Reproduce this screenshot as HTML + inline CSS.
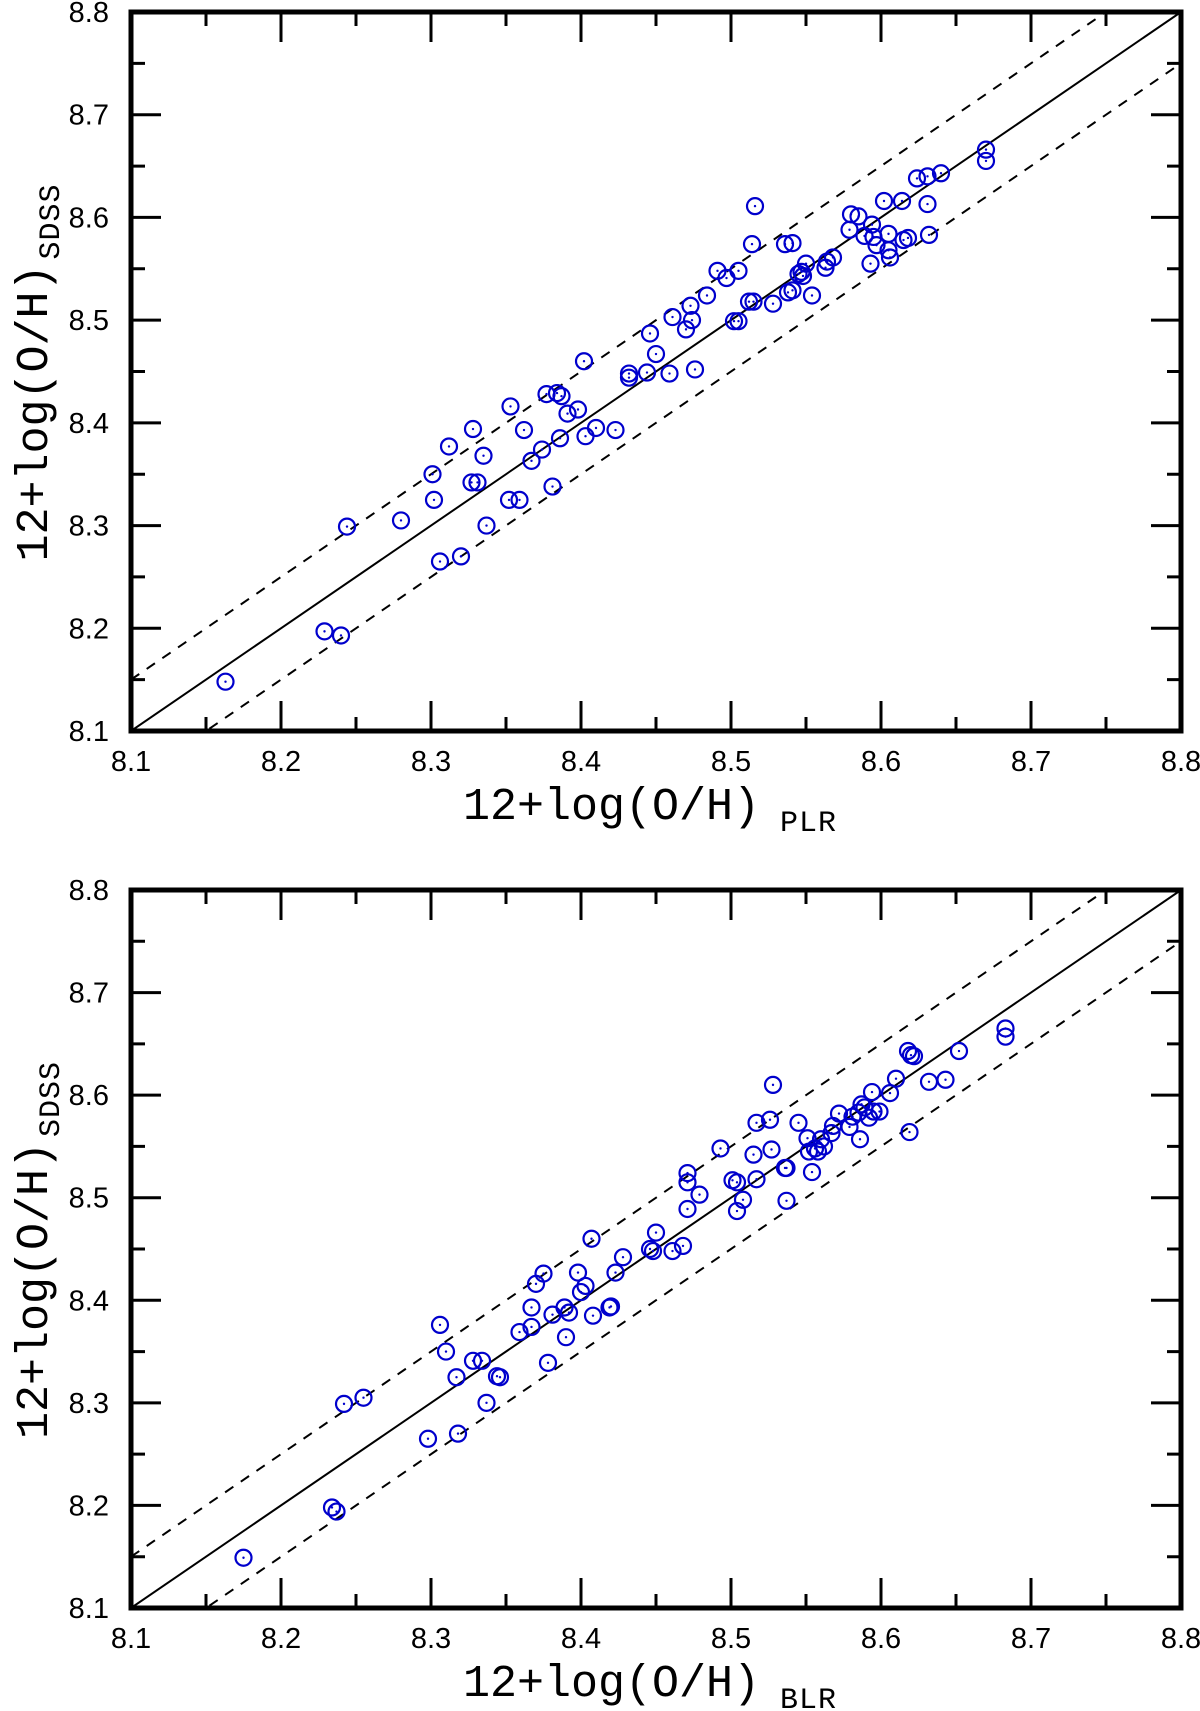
<!DOCTYPE html>
<html><head><meta charset="utf-8"><style>
body{margin:0;background:#fff}
svg{display:block}
.tk{font-family:"Liberation Sans",Arial,sans-serif;font-size:29px;fill:#000}
.ti{font-family:"Liberation Mono","Courier New",monospace;font-size:45px;fill:#000}
.sub{font-family:"Liberation Mono","Courier New",monospace;font-size:30px;letter-spacing:1px;fill:#000}
</style></head><body>
<svg id="svg" width="1200" height="1711" viewBox="0 0 1200 1711" xmlns="http://www.w3.org/2000/svg"></svg>
<script>
const ticks=[8.1,8.2,8.3,8.4,8.5,8.6,8.7,8.8];
const tickLabels=["8.1","8.2","8.3","8.4","8.5","8.6","8.7","8.8"];
const plrX=[8.163,8.229,8.240,8.244,8.280,8.306,8.320,8.301,8.302,8.312,8.328,8.327,8.331,8.335,8.337,8.352,8.359,8.353,8.362,8.367,8.374,8.377,8.384,8.387,8.381,8.386,8.391,8.398,8.402,8.403,8.410,8.423,8.432,8.432,8.444,8.446,8.450,8.459,8.461,8.470,8.473,8.474,8.476,8.484,8.491,8.497,8.502,8.505,8.505,8.512,8.514,8.515,8.516,8.528,8.536,8.541,8.538,8.541,8.545,8.547,8.550,8.548,8.554,8.563,8.564,8.568,8.580,8.579,8.585,8.589,8.594,8.595,8.593,8.597,8.602,8.605,8.605,8.606,8.614,8.615,8.618,8.624,8.631,8.631,8.632,8.640,8.670,8.670];
const plrY=[8.148,8.197,8.193,8.299,8.305,8.265,8.270,8.350,8.325,8.377,8.394,8.342,8.342,8.368,8.300,8.325,8.325,8.416,8.393,8.363,8.374,8.428,8.429,8.426,8.338,8.385,8.409,8.413,8.460,8.387,8.395,8.393,8.448,8.444,8.449,8.487,8.467,8.448,8.503,8.491,8.514,8.500,8.452,8.524,8.548,8.541,8.499,8.499,8.548,8.518,8.574,8.518,8.611,8.516,8.574,8.575,8.527,8.529,8.545,8.547,8.555,8.543,8.524,8.551,8.557,8.561,8.603,8.588,8.601,8.582,8.593,8.581,8.555,8.573,8.616,8.584,8.568,8.561,8.616,8.578,8.580,8.638,8.640,8.613,8.583,8.643,8.666,8.655];
const blrX=[8.175,8.234,8.237,8.242,8.255,8.298,8.318,8.306,8.310,8.317,8.328,8.334,8.337,8.344,8.346,8.359,8.367,8.367,8.370,8.375,8.378,8.381,8.389,8.390,8.392,8.398,8.400,8.403,8.407,8.408,8.419,8.420,8.423,8.428,8.446,8.448,8.450,8.461,8.468,8.471,8.471,8.471,8.479,8.493,8.501,8.504,8.504,8.508,8.515,8.517,8.517,8.526,8.527,8.528,8.536,8.537,8.537,8.545,8.551,8.552,8.554,8.556,8.558,8.560,8.562,8.567,8.568,8.572,8.579,8.581,8.585,8.586,8.587,8.589,8.592,8.594,8.595,8.599,8.606,8.610,8.618,8.620,8.619,8.622,8.632,8.643,8.652,8.683,8.683];
const blrY=[8.149,8.198,8.194,8.299,8.305,8.265,8.270,8.376,8.350,8.325,8.341,8.341,8.300,8.326,8.325,8.369,8.393,8.374,8.416,8.426,8.339,8.386,8.393,8.364,8.388,8.427,8.408,8.414,8.460,8.385,8.393,8.394,8.427,8.442,8.450,8.448,8.466,8.448,8.453,8.524,8.515,8.489,8.503,8.548,8.517,8.515,8.487,8.498,8.542,8.518,8.573,8.576,8.547,8.610,8.529,8.529,8.497,8.573,8.558,8.545,8.525,8.548,8.545,8.557,8.550,8.563,8.570,8.582,8.569,8.579,8.583,8.557,8.591,8.588,8.578,8.603,8.584,8.584,8.602,8.616,8.643,8.639,8.564,8.638,8.613,8.615,8.643,8.665,8.657];
const NS="http://www.w3.org/2000/svg";
const svg=document.getElementById('svg');
function mk(tag,attrs,parent){const e=document.createElementNS(NS,tag);for(const k in attrs)e.setAttribute(k,attrs[k]);(parent||svg).appendChild(e);return e;}
function panel(top,bottom,xs,ys,sub,name){
  const L=131,R=1181,T=top,B=bottom;
  const sx=v=>L+(v-8.1)/0.7*(R-L), sy=v=>B-(v-8.1)/0.7*(B-T);
  const g=mk('g',{});
  
  
  for(let i=0;i<=14;i++){
    const v=8.1+i*0.05, maj=i%2===0, len=maj?30:14;
    const x=sx(v), y=sy(v);
    const t=mk('path',{d:`M${x},${B}V${B-len}M${x},${T}V${T+len}M${L},${y}H${L+len}M${R},${y}H${R-len}`,stroke:'#000','stroke-width':3,fill:'none'},g);
    
    
  }
  ticks.forEach((v,i)=>{
    const a=mk('text',{x:sx(v),y:B+40,'text-anchor':'middle',class:'tk'},g);a.textContent=tickLabels[i];
    
    
    const b=mk('text',{x:109,y:sy(v)+10,'text-anchor':'end',class:'tk'},g);b.textContent=tickLabels[i];
    
    
  });
  const clip='clip'+name;
  const cp=mk('clipPath',{id:clip},g);mk('rect',{x:L,y:T,width:R-L,height:B-T},cp);
  const one=mk('line',{x1:sx(8.1),y1:sy(8.1),x2:sx(8.8),y2:sy(8.8),stroke:'#000','stroke-width':2,'clip-path':`url(#${clip})`},g);
  
  
  [0.05,-0.05].forEach(d=>{
    const l=mk('line',{x1:sx(8.1),y1:sy(8.1+d),x2:sx(8.8),y2:sy(8.8+d),stroke:'#000','stroke-width':2,'stroke-dasharray':'10,9','clip-path':`url(#${clip})`},g);
    
    
  });
  xs.forEach((x,i)=>{
    const c=mk('circle',{cx:sx(x),cy:sy(ys[i]),r:8,fill:'none',stroke:'#0000cc','stroke-width':2.2},g);
    
    
    mk('circle',{cx:sx(x),cy:sy(ys[i]),r:1.2,fill:'#0000cc'},g);
  });
  const fr=mk('rect',{x:L,y:T,width:R-L,height:B-T,fill:'none',stroke:'#000','stroke-width':5},g);
  
  
  const xt=mk('text',{x:463,y:B+88,class:'ti'},g);
  
  
  xt.textContent='12+log(O/H)';
  const xs2=mk('text',{x:780,y:B+100,class:'sub'},g);xs2.textContent=sub;
  
  
  const cy=(T+B)/2;
  const yg=mk('g',{transform:`translate(47,${cy+5}) rotate(-90)`},g);
  const yt=mk('text',{x:-185,y:0,class:'ti'},yg);yt.textContent='12+log(O/H)';
  
  
  const ys2=mk('text',{x:117,y:12,class:'sub'},yg);ys2.textContent='SDSS';
  
  
}
panel(12,731,plrX,plrY,'PLR','plr-panel');
panel(890,1608,blrX,blrY,'BLR','blr-panel');
</script>
</body></html>
